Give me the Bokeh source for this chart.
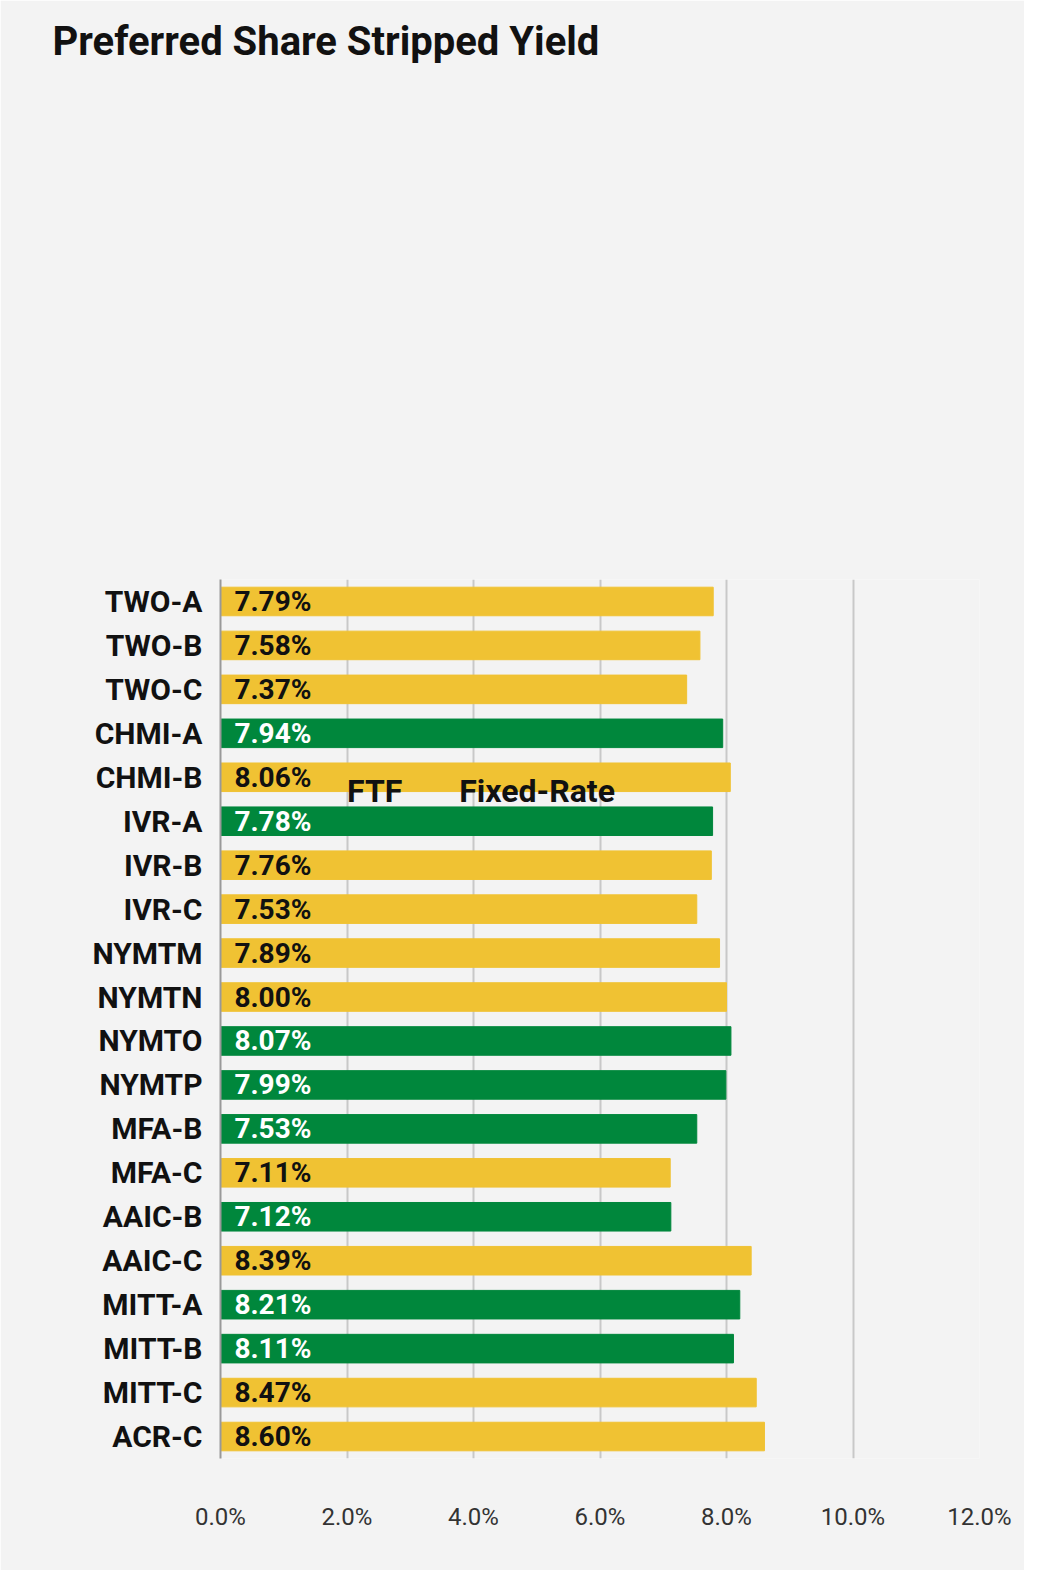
from bokeh.plotting import figure
from bokeh.models import Range1d, FixedTicker, ColumnDataSource, Legend, LegendItem
from bokeh.core.properties import value
from bokeh.embed import file_html
from bokeh.resources import INLINE

names = ["TWO-A","TWO-B","TWO-C","CHMI-A","CHMI-B","IVR-A","IVR-B","IVR-C","NYMTM","NYMTN",
         "NYMTO","NYMTP","MFA-B","MFA-C","AAIC-B","AAIC-C","MITT-A","MITT-B","MITT-C","ACR-C"]
yields = [7.79,7.58,7.37,7.94,8.06,7.78,7.76,7.53,7.89,8.00,8.07,7.99,7.53,7.11,7.12,8.39,8.21,8.11,8.47,8.60]
kinds = ["FTF","FTF","FTF","Fixed","FTF","Fixed","FTF","FTF","FTF","FTF",
         "Fixed","Fixed","Fixed","FTF","Fixed","FTF","Fixed","Fixed","FTF","FTF"]
x_ticks = [0, 2, 4, 6, 8, 10, 12]

YEL = "#f0c233"; GRN = "#00873c"
pos = list(range(len(names)))
src = ColumnDataSource(dict(
    y=pos, v=yields,
    color=[YEL if k == "FTF" else GRN for k in kinds],
    tcolor=["#111111" if k == "FTF" else "#ffffff" for k in kinds],
    lab=["%.2f%%" % v for v in yields],
    x0=[0.22] * len(pos)))

p = figure(width=1024, height=1570, output_backend="svg", toolbar_location=None,
           x_range=Range1d(0, 12), y_range=Range1d(19.5, -0.5),
           min_border_left=220, min_border_right=45, min_border_top=235, min_border_bottom=112,
           background_fill_color="#f3f3f3", border_fill_color="#f3f3f3")
p.outline_line_color = None
p.hbar(y="y", left=0, right="v", height=0.65, color="color", source=src)
p.text(x="x0", y="y", text="lab", text_color="tcolor", source=src, text_baseline="middle",
       text_font=value("Roboto"), text_font_style="bold", text_font_size="28px")

r1 = p.scatter(x=[], y=[], marker="square", color=YEL)
r2 = p.scatter(x=[], y=[], marker="square", color=GRN)
leg = Legend(items=[LegendItem(label="FTF", renderers=[r1]),
                    LegendItem(label="Fixed-Rate", renderers=[r2])],
             orientation="horizontal", location=(100, 0),
             label_text_font="Roboto", label_text_font_style="bold", label_text_font_size="32px",
             label_text_color="#111111", glyph_width=22, glyph_height=22, spacing=30,
             background_fill_alpha=0, border_line_color=None, margin=0, padding=5)
p.add_layout(leg, "above")

p.title.text = "Preferred Share Stripped Yield"
p.title.text_font = "Roboto"
p.title.text_font_size = "40px"
p.title.text_color = "#111111"
p.title.offset = -168
p.title.standoff = 30

p.xaxis.ticker = FixedTicker(ticks=x_ticks)
p.xaxis.major_label_overrides = {t: "%.1f%%" % t for t in x_ticks}
p.xaxis.major_label_text_font = "Roboto"
p.xaxis.major_label_text_font_size = "24px"
p.xaxis.major_label_text_color = "#333333"
p.xaxis.major_label_standoff = 38
p.xaxis.axis_line_color = None
p.xaxis.major_tick_line_color = None
p.xaxis.minor_tick_line_color = None

p.yaxis.ticker = FixedTicker(ticks=pos)
p.yaxis.major_label_overrides = {i: n for i, n in enumerate(names)}
p.yaxis.major_label_text_font = "Roboto"
p.yaxis.major_label_text_font_style = "bold"
p.yaxis.major_label_text_font_size = "30px"
p.yaxis.major_label_text_color = "#111111"
p.yaxis.major_label_standoff = 12
p.yaxis.axis_line_color = "#999999"
p.yaxis.axis_line_width = 2
p.yaxis.major_tick_line_color = None
p.yaxis.minor_tick_line_color = None

p.ygrid.grid_line_color = None
p.xgrid.grid_line_color = "#c8c8c8"
p.xgrid.grid_line_width = 2

open("out.html", "w").write(file_html(p, INLINE))
